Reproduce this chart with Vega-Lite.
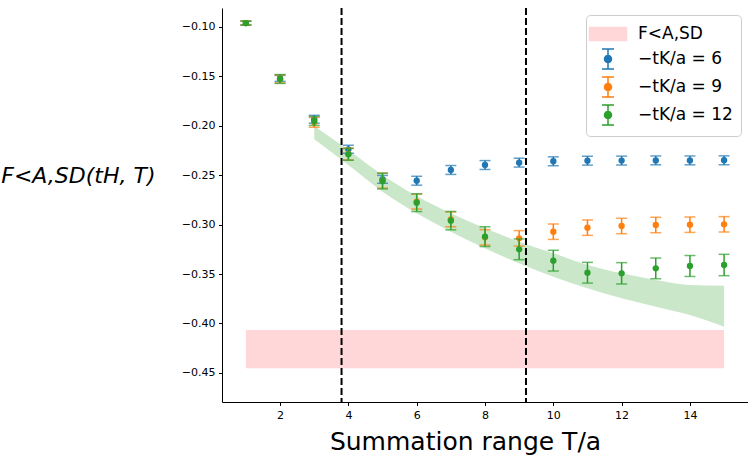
{
  "$schema": "https://vega.github.io/schema/vega-lite/v6.json",
  "width": 526,
  "height": 394,
  "autosize": {"type": "none"},
  "padding": {"left": 222, "top": 8, "right": 0, "bottom": 55},
  "background": "white",
  "config": {
    "view": {"stroke": null},
    "axis": {"grid": false, "domainColor": "#000000", "domainWidth": 1, "tickColor": "#000000", "tickWidth": 1, "tickSize": 3.5, "labelFont": "DejaVu Sans", "titleFont": "DejaVu Sans", "labelColor": "#000000", "titleColor": "#000000", "titleFontWeight": "normal", "labelFontSize": 11}
  },
  "datasets": {
    "ref": [{"s": "F", "T": 1, "T2": 15, "v": -0.4455, "v2": -0.4067}],
    "band": [
      {"T": 3, "hi": -0.2002, "lo": -0.2137},
      {"T": 4, "hi": -0.2245, "lo": -0.2397},
      {"T": 5, "hi": -0.2498, "lo": -0.2667},
      {"T": 6, "hi": -0.2711, "lo": -0.2886},
      {"T": 7, "hi": -0.2886, "lo": -0.3072},
      {"T": 8, "hi": -0.3037, "lo": -0.3240},
      {"T": 9, "hi": -0.3173, "lo": -0.3392},
      {"T": 10, "hi": -0.3290, "lo": -0.3527},
      {"T": 11, "hi": -0.3409, "lo": -0.3645},
      {"T": 12, "hi": -0.3493, "lo": -0.3746},
      {"T": 13, "hi": -0.3561, "lo": -0.3831},
      {"T": 14, "hi": -0.3611, "lo": -0.3915},
      {"T": 15, "hi": -0.3618, "lo": -0.4033}
    ],
    "vlines": [{"T": 3.8}, {"T": 9.2}],
    "pts": [
      {"s": "6", "T": 1, "v": -0.0960, "lo": -0.0980, "hi": -0.0940},
      {"s": "6", "T": 2, "v": -0.1520, "lo": -0.1550, "hi": -0.1490},
      {"s": "6", "T": 3, "v": -0.1934, "lo": -0.1974, "hi": -0.1894},
      {"s": "6", "T": 4, "v": -0.2238, "lo": -0.2278, "hi": -0.2198},
      {"s": "6", "T": 5, "v": -0.2542, "lo": -0.2582, "hi": -0.2502},
      {"s": "6", "T": 6, "v": -0.2556, "lo": -0.2601, "hi": -0.2511},
      {"s": "6", "T": 7, "v": -0.2447, "lo": -0.2492, "hi": -0.2402},
      {"s": "6", "T": 8, "v": -0.2397, "lo": -0.2442, "hi": -0.2352},
      {"s": "6", "T": 9, "v": -0.2373, "lo": -0.2418, "hi": -0.2328},
      {"s": "6", "T": 10, "v": -0.2359, "lo": -0.2404, "hi": -0.2314},
      {"s": "6", "T": 11, "v": -0.2353, "lo": -0.2398, "hi": -0.2308},
      {"s": "6", "T": 12, "v": -0.2352, "lo": -0.2397, "hi": -0.2307},
      {"s": "6", "T": 13, "v": -0.2350, "lo": -0.2395, "hi": -0.2305},
      {"s": "6", "T": 14, "v": -0.2350, "lo": -0.2395, "hi": -0.2305},
      {"s": "6", "T": 15, "v": -0.2349, "lo": -0.2394, "hi": -0.2304},
      {"s": "9", "T": 1, "v": -0.0960, "lo": -0.0980, "hi": -0.0940},
      {"s": "9", "T": 2, "v": -0.1525, "lo": -0.1565, "hi": -0.1485},
      {"s": "9", "T": 3, "v": -0.1965, "lo": -0.2015, "hi": -0.1915},
      {"s": "9", "T": 4, "v": -0.2285, "lo": -0.2345, "hi": -0.2225},
      {"s": "9", "T": 5, "v": -0.2555, "lo": -0.2630, "hi": -0.2480},
      {"s": "9", "T": 6, "v": -0.2768, "lo": -0.2843, "hi": -0.2693},
      {"s": "9", "T": 7, "v": -0.2947, "lo": -0.3022, "hi": -0.2872},
      {"s": "9", "T": 8, "v": -0.3129, "lo": -0.3207, "hi": -0.3051},
      {"s": "9", "T": 9, "v": -0.3139, "lo": -0.3217, "hi": -0.3061},
      {"s": "9", "T": 10, "v": -0.3072, "lo": -0.3150, "hi": -0.2994},
      {"s": "9", "T": 11, "v": -0.3031, "lo": -0.3109, "hi": -0.2953},
      {"s": "9", "T": 12, "v": -0.3014, "lo": -0.3092, "hi": -0.2936},
      {"s": "9", "T": 13, "v": -0.3004, "lo": -0.3082, "hi": -0.2926},
      {"s": "9", "T": 14, "v": -0.3001, "lo": -0.3079, "hi": -0.2923},
      {"s": "9", "T": 15, "v": -0.2997, "lo": -0.3075, "hi": -0.2919},
      {"s": "12", "T": 1, "v": -0.0960, "lo": -0.0980, "hi": -0.0940},
      {"s": "12", "T": 2, "v": -0.1526, "lo": -0.1571, "hi": -0.1481},
      {"s": "12", "T": 3, "v": -0.1951, "lo": -0.1996, "hi": -0.1906},
      {"s": "12", "T": 4, "v": -0.2289, "lo": -0.2349, "hi": -0.2229},
      {"s": "12", "T": 5, "v": -0.2559, "lo": -0.2639, "hi": -0.2479},
      {"s": "12", "T": 6, "v": -0.2778, "lo": -0.2868, "hi": -0.2688},
      {"s": "12", "T": 7, "v": -0.2960, "lo": -0.3053, "hi": -0.2867},
      {"s": "12", "T": 8, "v": -0.3122, "lo": -0.3222, "hi": -0.3022},
      {"s": "12", "T": 9, "v": -0.3250, "lo": -0.3355, "hi": -0.3145},
      {"s": "12", "T": 10, "v": -0.3365, "lo": -0.3470, "hi": -0.3260},
      {"s": "12", "T": 11, "v": -0.3487, "lo": -0.3592, "hi": -0.3382},
      {"s": "12", "T": 12, "v": -0.3493, "lo": -0.3601, "hi": -0.3385},
      {"s": "12", "T": 13, "v": -0.3443, "lo": -0.3548, "hi": -0.3338},
      {"s": "12", "T": 14, "v": -0.3419, "lo": -0.3525, "hi": -0.3313},
      {"s": "12", "T": 15, "v": -0.3409, "lo": -0.3517, "hi": -0.3301}
    ]
  },
  "encoding": {
    "x": {
      "field": "T", "type": "quantitative",
      "scale": {"domain": [0.3, 15.7], "nice": false, "zero": false},
      "axis": {"values": [2, 4, 6, 8, 10, 12, 14], "format": "d", "labelPadding": 4, "title": "Summation range T/a", "titleFontSize": 25, "titleX": 243, "titleY": 47, "titleBaseline": "alphabetic", "titleAnchor": null, "titleAlign": "center"}
    }
  },
  "layer": [
    {
      "data": {"name": "ref"},
      "mark": {"type": "rect"},
      "encoding": {
        "x2": {"field": "T2"},
        "y": {
          "field": "v", "type": "quantitative",
          "scale": {"domain": [-0.47955, -0.08077], "nice": false, "zero": false},
          "axis": {"values": [-0.45, -0.4, -0.35, -0.3, -0.25, -0.2, -0.15, -0.1], "format": ".2f", "labelPadding": 3.5, "title": "F<A,SD(tH, T)", "titleFontSize": 22, "titleFontStyle": "italic", "titleAngle": 0, "titleAlign": "right", "titleBaseline": "middle", "titleX": -67, "titleY": 167}
        },
        "y2": {"field": "v2"},
        "color": {
          "field": "s", "type": "nominal",
          "scale": {"domain": ["F", "6", "9", "12"], "range": ["#ffd7d8", "#1f77b4", "#ff7f0e", "#2ca02c"]},
          "legend": {
            "orient": "top-right", "offset": 7, "title": null,
            "labelFont": "DejaVu Sans", "labelFontSize": 17, "labelColor": "#000000",
            "labelExpr": "datum.value === 'F' ? 'F<A,SD' : '\u2212tK/a = ' + datum.value",
            "symbolSize": 400, "symbolOffset": 3, "labelOffset": 19, "rowPadding": 2,
            "padding": 8, "strokeColor": "#cccccc", "fillColor": "rgba(255,255,255,0.8)", "cornerRadius": 4,
            "encode": {
              "symbols": {
                "update": {
                  "shape": {"signal": "datum.value === 'F' ? 'M-1.85,-0.65H1.85V0.65H-1.85Z' : 'M-0.6,-1H0.6M0,-1V1M-0.6,1H0.6M0.35,0A0.35,0.35 0 1 1 -0.35,0A0.35,0.35 0 1 1 0.35,0Z'"},
                  "fill": {"signal": "datum.value === 'F' ? '#ffd7d8' : datum.value === '6' ? '#1f77b4' : datum.value === '9' ? '#ff7f0e' : '#2ca02c'"},
                  "stroke": {"signal": "datum.value === 'F' ? '#ffd7d8' : datum.value === '6' ? '#1f77b4' : datum.value === '9' ? '#ff7f0e' : '#2ca02c'"},
                  "strokeWidth": {"value": 1.5},
                  "opacity": {"value": 1}
                }
              }
            }
          }
        }
      }
    },
    {
      "data": {"name": "band"},
      "mark": {"type": "area", "color": "#2ca02c", "opacity": 0.25, "interpolate": "monotone"},
      "encoding": {"y": {"field": "hi", "type": "quantitative"}, "y2": {"field": "lo"}}
    },
    {
      "data": {"name": "vlines"},
      "mark": {"type": "rule", "color": "#000000", "strokeWidth": 2, "strokeDash": [7, 3]},
      "encoding": {}
    },
    {
      "data": {"name": "pts"},
      "transform": [{"filter": "datum.s === '6'"}],
      "layer": [
        {"mark": {"type": "rule", "color": "#1f77b4", "strokeWidth": 1.5}, "encoding": {"y": {"field": "lo", "type": "quantitative"}, "y2": {"field": "hi"}}},
        {"mark": {"type": "tick", "color": "#1f77b4", "orient": "horizontal", "size": 11, "thickness": 1.5}, "encoding": {"y": {"field": "lo", "type": "quantitative"}}},
        {"mark": {"type": "tick", "color": "#1f77b4", "orient": "horizontal", "size": 11, "thickness": 1.5}, "encoding": {"y": {"field": "hi", "type": "quantitative"}}},
        {"mark": {"type": "circle", "color": "#1f77b4", "size": 40, "opacity": 1}, "encoding": {"y": {"field": "v", "type": "quantitative"}}}
      ]
    },
    {
      "data": {"name": "pts"},
      "transform": [{"filter": "datum.s === '9'"}],
      "layer": [
        {"mark": {"type": "rule", "color": "#ff7f0e", "strokeWidth": 1.5}, "encoding": {"y": {"field": "lo", "type": "quantitative"}, "y2": {"field": "hi"}}},
        {"mark": {"type": "tick", "color": "#ff7f0e", "orient": "horizontal", "size": 11, "thickness": 1.5}, "encoding": {"y": {"field": "lo", "type": "quantitative"}}},
        {"mark": {"type": "tick", "color": "#ff7f0e", "orient": "horizontal", "size": 11, "thickness": 1.5}, "encoding": {"y": {"field": "hi", "type": "quantitative"}}},
        {"mark": {"type": "circle", "color": "#ff7f0e", "size": 40, "opacity": 1}, "encoding": {"y": {"field": "v", "type": "quantitative"}}}
      ]
    },
    {
      "data": {"name": "pts"},
      "transform": [{"filter": "datum.s === '12'"}],
      "layer": [
        {"mark": {"type": "rule", "color": "#2ca02c", "strokeWidth": 1.5}, "encoding": {"y": {"field": "lo", "type": "quantitative"}, "y2": {"field": "hi"}}},
        {"mark": {"type": "tick", "color": "#2ca02c", "orient": "horizontal", "size": 11, "thickness": 1.5}, "encoding": {"y": {"field": "lo", "type": "quantitative"}}},
        {"mark": {"type": "tick", "color": "#2ca02c", "orient": "horizontal", "size": 11, "thickness": 1.5}, "encoding": {"y": {"field": "hi", "type": "quantitative"}}},
        {"mark": {"type": "circle", "color": "#2ca02c", "size": 40, "opacity": 1}, "encoding": {"y": {"field": "v", "type": "quantitative"}}}
      ]
    }
  ]
}
